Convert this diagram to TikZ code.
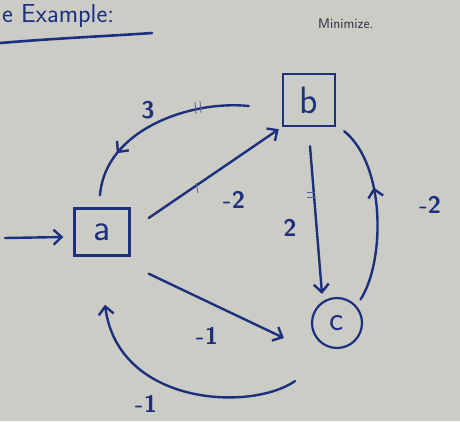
\documentclass[tikz,border=0pt]{standalone}
\usetikzlibrary{arrows.meta,decorations.markings}
\definecolor{ink}{RGB}{28,48,125}
\definecolor{paper}{RGB}{204,204,199}
\definecolor{pencil}{RGB}{45,45,60}
\begin{document}
\begin{tikzpicture}[x=1pt,y=-1pt,
  nodebox/.style={draw=ink, line width=2.4pt, minimum width=55pt, minimum height=47pt, inner sep=0pt, text=ink, font=\sffamily\fontsize{38}{38}\selectfont},
  nodecirc/.style={circle, draw=ink, line width=2.2pt, minimum size=50pt, inner sep=0pt, text=ink, font=\sffamily\fontsize{34}{34}\selectfont},
  edge/.style={draw=ink, color=ink, line width=2.4pt, line cap=round, -{Straight Barb[length=8pt,width=15pt]}},
  plainedge/.style={draw=ink, color=ink, line width=2.4pt, line cap=round},
  midarrow/.style={postaction={decorate}, decoration={markings, mark=at position #1 with {\arrow{Straight Barb[length=8pt,width=15pt]}}}},
  lbl/.style={text=ink, font=\sffamily\bfseries\fontsize{24}{24}\selectfont},
  tick/.style={draw=ink!70!paper, line width=0.8pt}]
\fill[paper] (0,0) rectangle (460,421);
\useasboundingbox (0,0) rectangle (460,421);

% header
\node[anchor=base west, inner sep=0pt, text=ink, font=\sffamily\fontsize{26}{26}\selectfont] (hdr) at (2,22) {e Example:};
\draw[plainedge, line width=2.6pt] (0,43) .. controls (60,38) and (110,36) .. (152,33);
\node[anchor=west, inner sep=0pt, text=pencil, font=\sffamily\fontsize{14}{14}\selectfont] (minz) at (318,24) {Minimize.};

% nodes
\node[nodebox] (a) at (102,232) {a};
\node[nodebox, minimum width=52pt, minimum height=52pt] (b) at (309,100) {b};
\node[nodecirc] (c) at (337,323) {c};

% incoming arrow
\coordinate (start) at (5,238);
\draw[edge] (start) -- ([shift={(-10,5)}]a.west);

% a -> b
\draw[edge] ([shift={(18,-14)}]a.east) -- ([shift={(-3,2)}]b.south west);
\node[lbl] (lab) at (234,200) {-2};

% b -> a (curved, top)
\draw[plainedge, midarrow=0.76] ([shift={(-33,6)}]b.west) .. controls (190,100) and (105,130) .. ([shift={(-2,-12)}]a.north);
\node[lbl] (lba) at (148,110) {3};

% b -> c
\draw[edge] ([shift={(1,19)}]b.south) -- ([shift={(-15,-3)}]c.north);
\node[lbl] (lbc) at (290,228) {2};

% c -> b (curved, right)
\draw[plainedge, midarrow=0.64] ([shift={(5,-5)}]c.north east) .. controls (385,262) and (386,165) .. ([shift={(8,4)}]b.south east);
\node[lbl] (lcb) at (430,205) {-2};

% a -> c
\draw[edge] ([shift={(18,17)}]a.south east) -- ([shift={(-27,15)}]c.west);
\node[lbl] (lac) at (207,336) {-1};

% c -> a (curved, bottom)
\draw[edge] ([shift={(-42,32)}]c.south) .. controls (250,412) and (118,405) .. ([shift={(3,48)}]a.south);
\node[lbl] (lca) at (146,404) {-1};

% small tick marks
\draw[tick] (195,102) -- (196,114) (200,101) -- (201,113);
\draw[tick] (196,183) -- (198,193);
\draw[tick] (307,192) -- (315,192) (307,197) -- (315,197);
\end{tikzpicture}
\end{document}
